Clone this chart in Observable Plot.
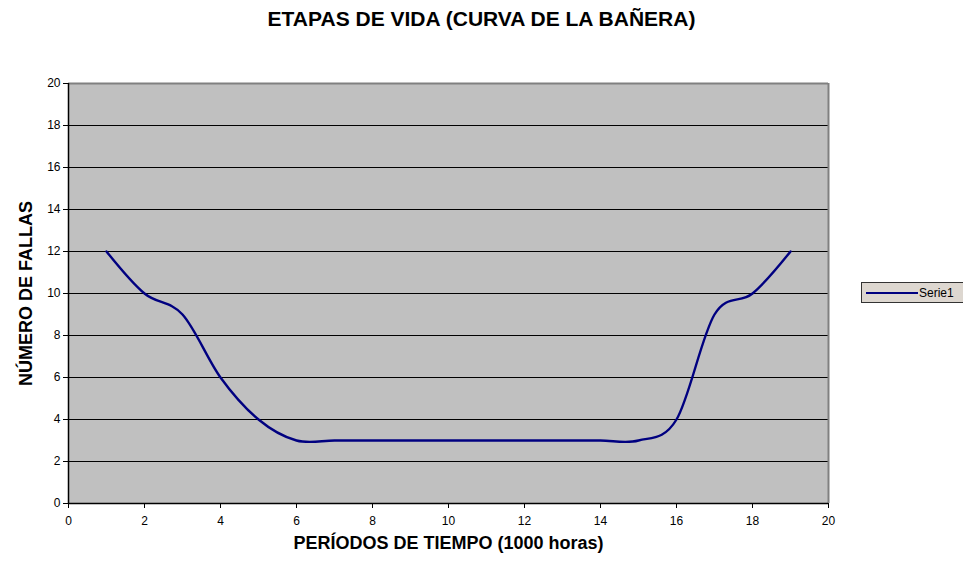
<!DOCTYPE html>
<html>
<head>
<meta charset="utf-8">
<script src="https://cdn.jsdelivr.net/npm/d3@7"></script>
<script src="https://cdn.jsdelivr.net/npm/@observablehq/plot@0.6"></script>
<style>
  body { margin: 0; background: #fff; font-family: "Liberation Sans", Arial, sans-serif; }
  #wrap { position: relative; width: 963px; height: 565px; overflow: hidden; }
  #title { position: absolute; left: 0; width: 963px; top: 7px; text-align: center; font-weight: bold; font-size: 21px; color: #000; }
  #legend { position: absolute; left: 861px; top: 282px; width: 110px; height: 21px; background: #ddd7d0; border: 1px solid #333; box-sizing: border-box; }
  #legend .ln { position: absolute; left: 4px; top: 9px; width: 52px; height: 2px; background: #000080; }
  #legend .tx { position: absolute; left: 57px; top: 3px; font-size: 12px; color: #000; }
</style>
</head>
<body>
<div id="wrap">
  <div id="chart"></div>
  <div id="title">ETAPAS DE VIDA (CURVA DE LA BAÑERA)</div>
  <div id="legend"><div class="ln"></div><div class="tx">Serie1</div></div>
</div>
<script>
const periods = [1, 2, 3, 4, 5, 6, 7, 8, 9, 10, 11, 12, 13, 14, 15, 16, 17, 18, 19];
const failures = [12, 10, 9, 6, 4, 3, 3, 3, 3, 3, 3, 3, 3, 3, 3, 4, 9, 10, 12];
const xTicks = [0, 2, 4, 6, 8, 10, 12, 14, 16, 18, 20];
const yTicks = [0, 2, 4, 6, 8, 10, 12, 14, 16, 18, 20];
const seriesName = "Serie1";
const xTitle = "PERÍODOS DE TIEMPO (1000 horas)";
const yTitle = "NÚMERO DE FALLAS";

const data = periods.map((p, i) => ({x: p, y: failures[i]}));

const chart = Plot.plot({
  width: 963,
  height: 565,
  marginLeft: 68,
  marginRight: 135,
  marginTop: 83,
  marginBottom: 62,
  style: {fontFamily: "'Liberation Sans', Arial, sans-serif", background: "white", color: "black"},
  x: {domain: [0, 20]},
  y: {domain: [0, 20]},
  marks: [
    Plot.frame({fill: "#c0c0c0", stroke: "none"}),
    Plot.ruleY(yTicks.filter(d => d > 0 && d < 20), {stroke: "#000", strokeWidth: 1}),
    Plot.ruleY([20], {stroke: "#808080", strokeWidth: 2}),
    Plot.ruleX([20], {stroke: "#808080", strokeWidth: 2}),
    Plot.ruleY([0], {stroke: "#000", strokeWidth: 1.5}),
    Plot.ruleX([0], {stroke: "#000", strokeWidth: 1.5}),
    Plot.axisX({ticks: xTicks, tickSize: 5, tickPadding: 8, fontSize: 12, label: null, tickFormat: d => String(d)}),
    Plot.axisY({ticks: yTicks, tickSize: 5, tickPadding: 3, fontSize: 12, label: null, tickFormat: d => String(d)}),
    Plot.line(data, {x: "x", y: "y", stroke: "#000080", strokeWidth: 2.4, curve: "cardinal", tension: 0}),
    Plot.text([xTitle], {frameAnchor: "bottom", dy: 45, textAnchor: "middle", text: d => d, fontSize: 18, fontWeight: "bold", fill: "#000"}),
    Plot.text([yTitle], {frameAnchor: "left", dx: -42, textAnchor: "middle", rotate: -90, text: d => d, fontSize: 18, fontWeight: "bold", fill: "#000"})
  ]
});
document.getElementById("chart").appendChild(chart);
</script>
</body>
</html>
